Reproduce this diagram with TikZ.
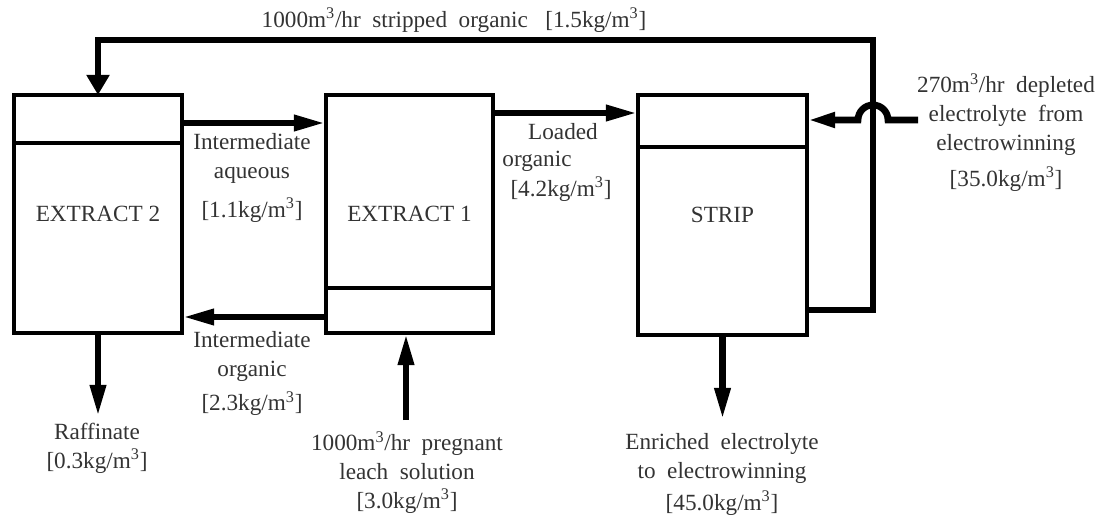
\documentclass[tikz,border=0pt]{standalone}
\usepackage{fontspec}
\setmainfont{Liberation Serif}
\usetikzlibrary{arrows.meta,calc}

\begin{document}
\begin{tikzpicture}[
    x=0.025cm, y=-0.025cm,
    unit/.style={rectangle, draw=black, line width=0.08cm, outer sep=0pt, inner sep=0pt, font=\fontsize{16.5}{20.6}\selectfont, text=black!80},
    divider/.style={draw=black, line width=0.08cm},
    flow/.style={draw=black, line width=0.17cm, line join=miter, -{Triangle[length=0.8cm, width=0.37cm]}},
    label/.style={font=\fontsize{16.5}{20.6}\selectfont, text=black!80, align=center, inner sep=0pt}
]
    \useasboundingbox (0,0) rectangle (1103,517);

    % --- UNITS ---
    \node[unit, minimum width=4.2cm, minimum height=5.95cm] (ex2) at (98,214) {EXTRACT 2};
    \node[unit, minimum width=4.175cm, minimum height=5.95cm] (ex1) at (409.5,214) {EXTRACT 1};
    \node[unit, minimum width=4.225cm, minimum height=6cm] (strip) at (722.5,215) {STRIP};
    \draw[divider] ($(ex2.north west)+(0,48)$) -- ($(ex2.north east)+(0,48)$);
    \draw[divider] ($(ex1.north west)+(0,193)$) -- ($(ex1.north east)+(0,193)$);
    \draw[divider] ($(strip.north west)+(0,52)$) -- ($(strip.north east)+(0,52)$);

    % --- FLOWS BETWEEN UNITS ---
    \coordinate (aq) at (0,123);
    \coordinate (lo) at (0,113);
    \coordinate (io) at (0,317);
    \draw[flow] (ex2.east |- aq) -- (ex1.west |- aq);
    \draw[flow] (ex1.east |- lo) -- (strip.west |- lo);
    \draw[flow] (ex1.west |- io) -- (ex2.east |- io);

    % --- FEEDS AND PRODUCTS ---
    \coordinate (raf) at (98,417);
    \coordinate (pls) at (406,420);
    \coordinate (enr) at (722.5,420);
    \draw[flow] (ex2.south) -- (ex2.south |- raf);
    \draw[flow] (pls) -- (pls |- ex1.south);
    \draw[flow] (strip.south) -- (strip.south |- enr);

    % --- STRIPPED ORGANIC RECYCLE ---
    \coordinate (rc) at (0,310);
    \coordinate (loop) at (873,40);
    \draw[flow, -{Triangle[length=0.5cm, width=0.55cm]}] (strip.east |- rc) -| (loop) -| (ex2.north);

    % --- DEPLETED ELECTROLYTE (hop over recycle) ---
    \coordinate (dep) at (918,120);
    \draw[flow, -{Triangle[length=0.7cm, width=0.35cm]}] (dep) -- ($(loop |- dep)+(15,0)$) arc[start angle=0, end angle=180, radius=0.375cm] -- (strip.east |- dep);

    % --- LABELS ---
    \node[label] (lbtop) at (454,20) {1000m\textsuperscript{3}/hr\ \ stripped\ \ organic\ \ \ [1.5kg/m\textsuperscript{3}]};
    \node[label, anchor=north] (lbaq) at (252,133) {Intermediate\\aqueous\\[7pt]{[}1.1kg/m\textsuperscript{3}]};
    \node[label, anchor=north] (lbio) at (252,331) {Intermediate\\organic\\[4pt]{[}2.3kg/m\textsuperscript{3}]};
    \node[label] (lbld1) at (563,132) {Loaded};
    \node[label] (lbld2) at (537,161) {organic};
    \node[label] (lbld3) at (561,189) {[4.2kg/m\textsuperscript{3}]};
    \node[label, anchor=north] (lbdep) at (1006,73) {270m\textsuperscript{3}/hr\ \ depleted\\electrolyte\ \ from\\electrowinning\\[5pt]{[}35.0kg/m\textsuperscript{3}]};
    \node[label, anchor=north] (lbraf) at (97,423) {Raffinate\\{[}0.3kg/m\textsuperscript{3}]};
    \node[label, anchor=north] (lbpls) at (407,431) {1000m\textsuperscript{3}/hr\ \ pregnant\\leach\ \ solution\\{[}3.0kg/m\textsuperscript{3}]};
    \node[label, anchor=north] (lbenr) at (722,433) {Enriched\ \ electrolyte\\to\ \ electrowinning\\[2pt]{[}45.0kg/m\textsuperscript{3}]};

\end{tikzpicture}
\end{document}
